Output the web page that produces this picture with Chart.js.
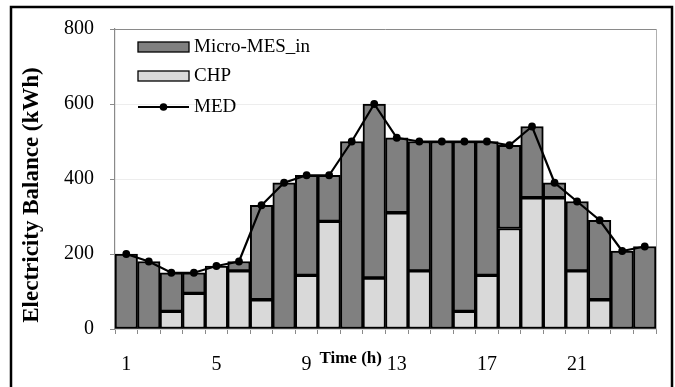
<!DOCTYPE html>
<html>
<head>
<meta charset="utf-8">
<script src="https://cdn.jsdelivr.net/npm/chart.js@4"></script>
<style>
  html, body { margin: 0; padding: 0; background: #ffffff; }
  #wrap { width: 675px; height: 387px; position: relative; }
</style>
</head>
<body>
<div id="wrap"><canvas id="c" width="675" height="387"></canvas></div>
<script>
// ---- data ----
const hours = ['1','2','3','4','5','6','7','8','9','10','11','12','13','14','15','16','17','18','19','20','21','22','23','24'];
const chp = [0, 0, 47, 95, 168, 155, 78, 0, 143, 287, 0, 136, 310, 155, 0, 47, 143, 268, 350, 350, 155, 78, 0, 0];
const microMesIn = [200, 180, 103, 55, 0, 25, 252, 390, 267, 123, 500, 464, 200, 345, 500, 453, 357, 222, 190, 40, 185, 212, 208, 220];
const med = [200, 180, 150, 150, 168, 180, 330, 390, 410, 410, 500, 600, 510, 500, 500, 500, 500, 490, 540, 390, 340, 290, 208, 220];
const yTicks = [0, 200, 400, 600, 800];
const shownHourLabels = ['1', '5', '9', '13', '17', '21'];

const SERIF = "'Liberation Serif', 'Times New Roman', serif";
const DARK = '#808080';
const LIGHT = '#d9d9d9';

const framePlugin = {
  id: 'frame',
  beforeDatasetsDraw(chart) {
    const { ctx, chartArea: a } = chart;
    ctx.save();
    ctx.lineWidth = 1;
    ctx.strokeStyle = '#8a8a8a';
    ctx.beginPath();
    ctx.moveTo(a.left, a.top + 0.5);
    ctx.lineTo(a.right, a.top + 0.5);
    ctx.stroke();
    ctx.strokeStyle = '#b0b0b0';
    ctx.beginPath();
    ctx.moveTo(a.right + 0.5, a.top);
    ctx.lineTo(a.right + 0.5, a.bottom);
    ctx.stroke();
    ctx.restore();
  },
  afterDraw(chart) {
    const { ctx, chartArea: a, scales } = chart;
    ctx.save();
    // outer frame
    ctx.strokeStyle = '#000';
    ctx.lineWidth = 2.5;
    ctx.strokeRect(11, 7, 661, 420);

    // y axis title
    ctx.save();
    ctx.translate(32, 195);
    ctx.rotate(-Math.PI / 2);
    ctx.font = "bold 23px " + SERIF;
    ctx.fillStyle = '#000';
    ctx.textAlign = 'center';
    ctx.textBaseline = 'middle';
    ctx.fillText('Electricity Balance (kWh)', 0, 0);
    ctx.restore();

    // x axis title, between the "9" and "13" labels
    const x9 = scales.x.getPixelForValue(hours.indexOf('9'));
    const x13 = scales.x.getPixelForValue(hours.indexOf('13'));
    ctx.font = "bold 17px " + SERIF;
    ctx.fillStyle = '#000';
    ctx.textAlign = 'center';
    ctx.textBaseline = 'middle';
    ctx.fillText('Time (h)', (x9 + x13) / 2 - 1, a.bottom + 30);

    // legend
    const lx = a.left + 23, bw = 51, bh = 10;
    const rows = [a.top + 18, a.top + 47, a.top + 78];
    ctx.font = "19px " + SERIF;
    ctx.textAlign = 'left';
    ctx.textBaseline = 'middle';
    // Micro-MES_in
    ctx.fillStyle = DARK;
    ctx.fillRect(lx, rows[0] - bh / 2, bw, bh);
    ctx.lineWidth = 1.3; ctx.strokeStyle = '#000';
    ctx.strokeRect(lx, rows[0] - bh / 2, bw, bh);
    ctx.fillStyle = '#000';
    ctx.fillText('Micro-MES_in', lx + bw + 5, rows[0]);
    // CHP
    ctx.fillStyle = LIGHT;
    ctx.fillRect(lx, rows[1] - bh / 2, bw, bh);
    ctx.strokeRect(lx, rows[1] - bh / 2, bw, bh);
    ctx.fillStyle = '#000';
    ctx.fillText('CHP', lx + bw + 5, rows[1]);
    // MED
    ctx.lineWidth = 2;
    ctx.beginPath();
    ctx.moveTo(lx, rows[2]);
    ctx.lineTo(lx + bw, rows[2]);
    ctx.stroke();
    ctx.beginPath();
    ctx.arc(lx + bw / 2, rows[2], 3.8, 0, Math.PI * 2);
    ctx.fill();
    ctx.fillText('MED', lx + bw + 5, rows[2]);
    ctx.restore();
  }
};

new Chart(document.getElementById('c'), {
  data: {
    labels: hours,
    datasets: [
      {
        type: 'line', label: 'MED', data: med, order: 0, stack: 'line',
        borderColor: '#000', borderWidth: 2.2, tension: 0,
        pointRadius: 3.9, pointBackgroundColor: '#000', pointBorderColor: '#000', pointBorderWidth: 0
      },
      {
        type: 'bar', label: 'CHP', data: chp, order: 1, stack: 'bars',
        backgroundColor: LIGHT, borderColor: '#000', borderWidth: 2, borderSkipped: false,
        categoryPercentage: 1.0, barPercentage: 1.0
      },
      {
        type: 'bar', label: 'Micro-MES_in', data: microMesIn, order: 1, stack: 'bars',
        backgroundColor: DARK, borderColor: '#000', borderWidth: 2, borderSkipped: false,
        categoryPercentage: 1.0, barPercentage: 1.0
      }
    ]
  },
  options: {
    responsive: false,
    animation: false,
    layout: { padding: { top: 29, right: 19, left: 0, bottom: 0 } },
    plugins: { legend: { display: false }, tooltip: { enabled: false }, title: { display: false } },
    scales: {
      x: {
        stacked: true,
        grid: { offset: true, drawOnChartArea: false, tickLength: 5, tickColor: '#8a8a8a', tickWidth: 1 },
        border: { color: '#8a8a8a', width: 1.2 },
        ticks: {
          autoSkip: false, maxRotation: 0, padding: 19, color: '#000',
          font: { family: SERIF, size: 20 },
          callback: function (v, i) { const l = hours[i]; return shownHourLabels.includes(l) ? l : ''; }
        },
        afterFit: s => { s.height = 58; }
      },
      y: {
        stacked: true, min: yTicks[0], max: yTicks[yTicks.length - 1],
        grid: { color: '#ededed', lineWidth: 1, tickLength: 5, tickColor: '#8a8a8a' },
        border: { color: '#8a8a8a', width: 1.2 },
        ticks: {
          stepSize: yTicks[1] - yTicks[0], padding: 16, color: '#000',
          font: { family: SERIF, size: 20 }
        },
        afterFit: s => { s.width = 115; }
      }
    }
  },
  plugins: [framePlugin]
});
</script>
</body>
</html>
